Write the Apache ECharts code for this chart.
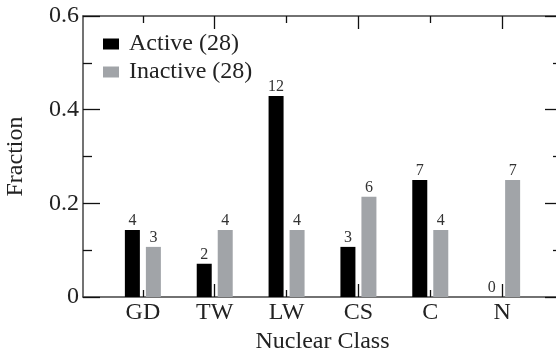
<!DOCTYPE html>
<html>
<head>
<meta charset="utf-8">
<script src="https://cdn.jsdelivr.net/npm/echarts@6/dist/echarts.min.js"></script>
<style>
html,body{margin:0;padding:0;background:#fff;}
#chart{width:556px;height:354px;}
</style>
</head>
<body>
<div id="chart"></div>
<script>
const categories = ['GD', 'TW', 'LW', 'CS', 'C', 'N'];
const activeFraction = [0.143, 0.071, 0.429, 0.107, 0.25, 0];
const inactiveFraction = [0.107, 0.143, 0.143, 0.214, 0.143, 0.25];
const activeCounts = [4, 2, 12, 3, 7, 0];
const inactiveCounts = [3, 4, 4, 6, 4, 7];
const yTicks = [0, 0.2, 0.4, 0.6];
const seriesNames = ['Active (28)', 'Inactive (28)'];

const FONT = "'Liberation Serif', 'Times New Roman', serif";
const FS = 24;
const positions = categories.map((c, i) => i + 1);
const majorPos = positions.filter(p => p % 2 === 0);
const minorPos = positions.filter(p => p % 2 === 1);
const XMIN = 1 - 60 / 72, XMAX = categories.length + 60 / 72;
const lineColor = '#444';

function xAxisDef(pos, ticks, len, showLine, showLabel) {
  return {
    type: 'value', position: pos, min: XMIN, max: XMAX,
    splitLine: {show: false},
    axisLine: {show: showLine, onZero: false, lineStyle: {color: lineColor, width: 1.5}},
    axisTick: {show: true, inside: true, length: len, customValues: ticks, lineStyle: {color: '#111', width: 1.3}},
    axisLabel: showLabel ? {
      show: true, customValues: positions, margin: 4,
      formatter: v => categories[Math.round(v) - 1] || '',
      fontFamily: FONT, fontSize: FS, color: '#222'
    } : {show: false}
  };
}

const xAxes = [
  Object.assign(xAxisDef('bottom', majorPos, 13, true, true), {
    name: 'Nuclear Class', nameLocation: 'middle', nameGap: 33,
    nameTextStyle: {fontFamily: FONT, fontSize: FS, color: '#222'}
  }),
  xAxisDef('bottom', minorPos, 7, false, false),
  xAxisDef('top', majorPos, 13, true, false),
  xAxisDef('top', minorPos, 7, false, false)
];

function yAxisDef(pos, showLabel) {
  return {
    type: 'value', position: pos, min: 0, max: 0.6, interval: 0.2,
    splitLine: {show: false},
    axisLine: {show: true, onZero: false, lineStyle: {color: lineColor, width: 1.5}},
    axisTick: {show: true, inside: true, length: 17, lineStyle: {color: '#111', width: 1.3}},
    minorTick: {show: true, splitNumber: 2, length: 9, lineStyle: {color: '#111', width: 1.3}},
    axisLabel: showLabel ? {
      show: true, margin: 4, fontFamily: FONT, fontSize: FS, color: '#222',
      formatter: v => (Math.abs(v) < 1e-9 ? '0' : v.toFixed(1))
    } : {show: false}
  };
}

const yAxes = [
  Object.assign(yAxisDef('left', true), {
    name: 'Fraction', nameLocation: 'middle', nameGap: 55, nameRotate: 90,
    nameTextStyle: {fontFamily: FONT, fontSize: FS, color: '#222'}
  }),
  yAxisDef('right', false)
];

function barSeries(name, values, counts, color) {
  return {
    name: name, type: 'bar', xAxisIndex: 0, yAxisIndex: 0,
    barWidth: 15, barGap: '40%',
    itemStyle: {color: color},
    data: values.map((v, i) => [positions[i], v]),
    label: {
      show: true, position: 'top', distance: 1,
      fontFamily: FONT, fontSize: 16, color: '#333',
      formatter: p => String(counts[p.dataIndex])
    },
    z: 1
  };
}

const chart = echarts.init(document.getElementById('chart'), null, {renderer: 'canvas'});
chart.setOption({
  animation: false,
  backgroundColor: '#fff',
  textStyle: {fontFamily: FONT},
  grid: {left: 83, top: 16, width: 479, height: 281, containLabel: false, outerBoundsMode: 'none'},
  legend: {
    show: true, orient: 'vertical', left: 98, top: 27,
    itemWidth: 16, itemHeight: 11, itemGap: 4, icon: 'rect',
    textStyle: {fontFamily: FONT, fontSize: FS, color: '#222', padding: [0, 0, 0, 5]},
    data: seriesNames
  },
  xAxis: xAxes,
  yAxis: yAxes,
  series: [
    barSeries(seriesNames[0], activeFraction, activeCounts, '#000000'),
    barSeries(seriesNames[1], inactiveFraction, inactiveCounts, '#a1a4a8')
  ]
});
</script>
</body>
</html>
